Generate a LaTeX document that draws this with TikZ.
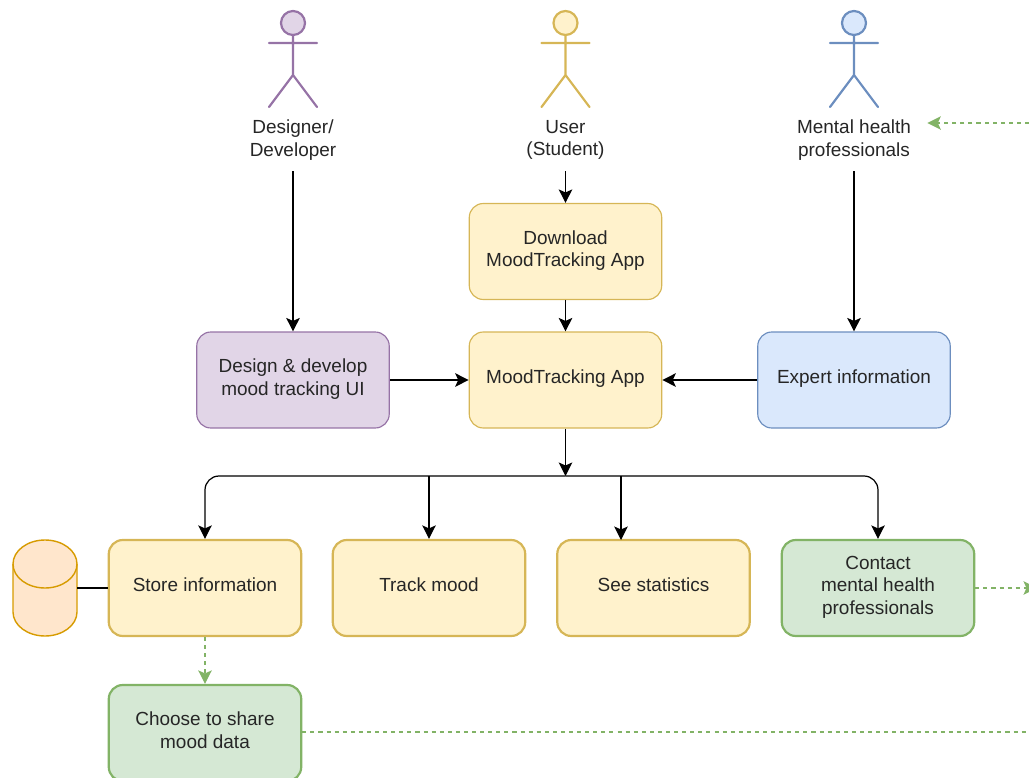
\documentclass[tikz,border=0pt]{standalone}
\usepackage{fontspec}
\setmainfont{Liberation Sans}
\usetikzlibrary{arrows.meta,shapes.geometric}

\definecolor{purpleFill}{HTML}{E1D5E7}
\definecolor{purpleLine}{HTML}{9673A6}
\definecolor{yellowFill}{HTML}{FFF2CC}
\definecolor{yellowLine}{HTML}{D6B656}
\definecolor{blueFill}{HTML}{DAE8FC}
\definecolor{blueLine}{HTML}{6C8EBF}
\definecolor{greenFill}{HTML}{D5E8D4}
\definecolor{greenLine}{HTML}{82B366}
\definecolor{orangeFill}{HTML}{FFE6CC}
\definecolor{orangeLine}{HTML}{D79B00}

\tikzset{
    box/.style={draw, rounded corners=0.28cm, minimum width=3.85cm, minimum height=1.92cm,
        align=center, inner sep=0pt, text depth=3.5pt, text=black!85, font=\fontsize{10.8}{12.8}\selectfont},
    thinbox/.style={box, line width=0.65pt},
    thickbox/.style={box, line width=1.25pt},
    actorlabel/.style={minimum width=2.92cm, minimum height=1.24cm, align=center, inner sep=0pt,
        text=black!85, font=\fontsize{10.8}{12.8}\selectfont},
    flow/.style={line width=0.7pt, black, -{Stealth[length=0.27cm,width=0.27cm,inset=0.06cm]}},
    shareflow/.style={line width=0.7pt, greenLine, dash pattern=on 2.3pt off 2.3pt,
        -{Stealth[length=0.27cm,width=0.27cm,inset=0.06cm]}},
    shareline/.style={line width=0.7pt, greenLine, dash pattern=on 2.3pt off 2.3pt},
}

\begin{document}
\begin{tikzpicture}[x=0.02cm,y=-0.02cm]

    \useasboundingbox (0,0) rectangle (1029,778);

    % Stick figures
    \foreach \xA/\fillA/\lineA in {293/purpleFill/purpleLine, 565.5/yellowFill/yellowLine, 854/blueFill/blueLine} {
        \draw[line width=1.25pt, draw=\lineA, fill=\fillA] (\xA,23) circle (12);
        \draw[line width=1.25pt, draw=\lineA, line cap=round] (\xA,35) -- (\xA,75)
            (\xA-24,43) -- (\xA+24,43)
            (\xA-24,107) -- (\xA,75) -- (\xA+24,107);
    }

    % Actor labels
    \node[actorlabel] (designer) at (293,140) {Designer/\\Developer};
    \node[actorlabel] (user) at (565.5,140) {User\\(Student)};
    \node[actorlabel] (health) at (854,140) {Mental health\\professionals};

    % Upper boxes
    \node[thinbox, draw=yellowLine, fill=yellowFill] (download) at (565.5,251.5) {Download\\MoodTracking App};
    \node[thinbox, draw=yellowLine, fill=yellowFill] (app) at (565.5,380) {MoodTracking App};
    \node[thinbox, draw=purpleLine, fill=purpleFill] (design) at (293,380) {Design \& develop\\mood tracking UI};
    \node[thinbox, draw=blueLine, fill=blueFill] (expert) at (854,380) {Expert information};

    % Lower boxes
    \node[thickbox, draw=yellowLine, fill=yellowFill] (store) at (205,588) {Store information};
    \node[thickbox, draw=yellowLine, fill=yellowFill] (track) at (429,588) {Track mood};
    \node[thickbox, draw=yellowLine, fill=yellowFill] (stats) at (653.5,588) {See statistics};
    \node[thickbox, draw=greenLine, fill=greenFill] (contact) at (878,588) {Contact\\mental health\\professionals};
    \node[thickbox, draw=greenLine, fill=greenFill] (share) at (205,733) {Choose to share\\mood data};

    % Database
    \draw[line width=0.8pt, draw=orangeLine, fill=orangeFill] (13,564) arc [start angle=180,end angle=0,x radius=32,y radius=-24]
        -- (77,612) arc [start angle=0,end angle=-180,x radius=32,y radius=-24] -- cycle;
    \draw[line width=0.8pt, draw=orangeLine] (13,564) arc [start angle=180,end angle=360,x radius=32,y radius=-24];
    \coordinate (database) at (77,588);

    % Free ends on the right
    \coordinate (rightTop) at (1029,123);
    \coordinate (rightMid) at (1037,588);
    \coordinate (rightLow) at (1029,732);
    \coordinate (busJoin) at (565.5,476);
    \coordinate (statsDrop) at (621,540);

    % Black connectors
    \draw[flow] (designer.south) -- (design.north);
    \draw[flow] (user.south) -- (download.north);
    \draw[flow] (health.south) -- (expert.north);
    \draw[flow] (download.south) -- (app.north);
    \draw[flow] (design.east) -- (app.west);
    \draw[flow] (expert.west) -- (app.east);
    \draw[flow] (app.south) -- (busJoin);
    \draw[flow, rounded corners=0.28cm] (busJoin) -| (store.north);
    \draw[flow, rounded corners=0.28cm] (busJoin) -| (contact.north);
    \draw[flow] (track.north |- busJoin) -- (track.north);
    \draw[flow] (statsDrop |- busJoin) -- (statsDrop);
    \draw[line width=0.7pt] (database) -- (store.west);

    % Green dashed connectors
    \draw[shareflow] (store.south) -- (share.north);
    \draw[shareflow] (contact.east) -- (rightMid);
    \draw[shareline] (share.east |- rightLow) -- (rightLow);
    \draw[shareflow] (rightTop) -- (health.east |- rightTop);

\end{tikzpicture}
\end{document}
